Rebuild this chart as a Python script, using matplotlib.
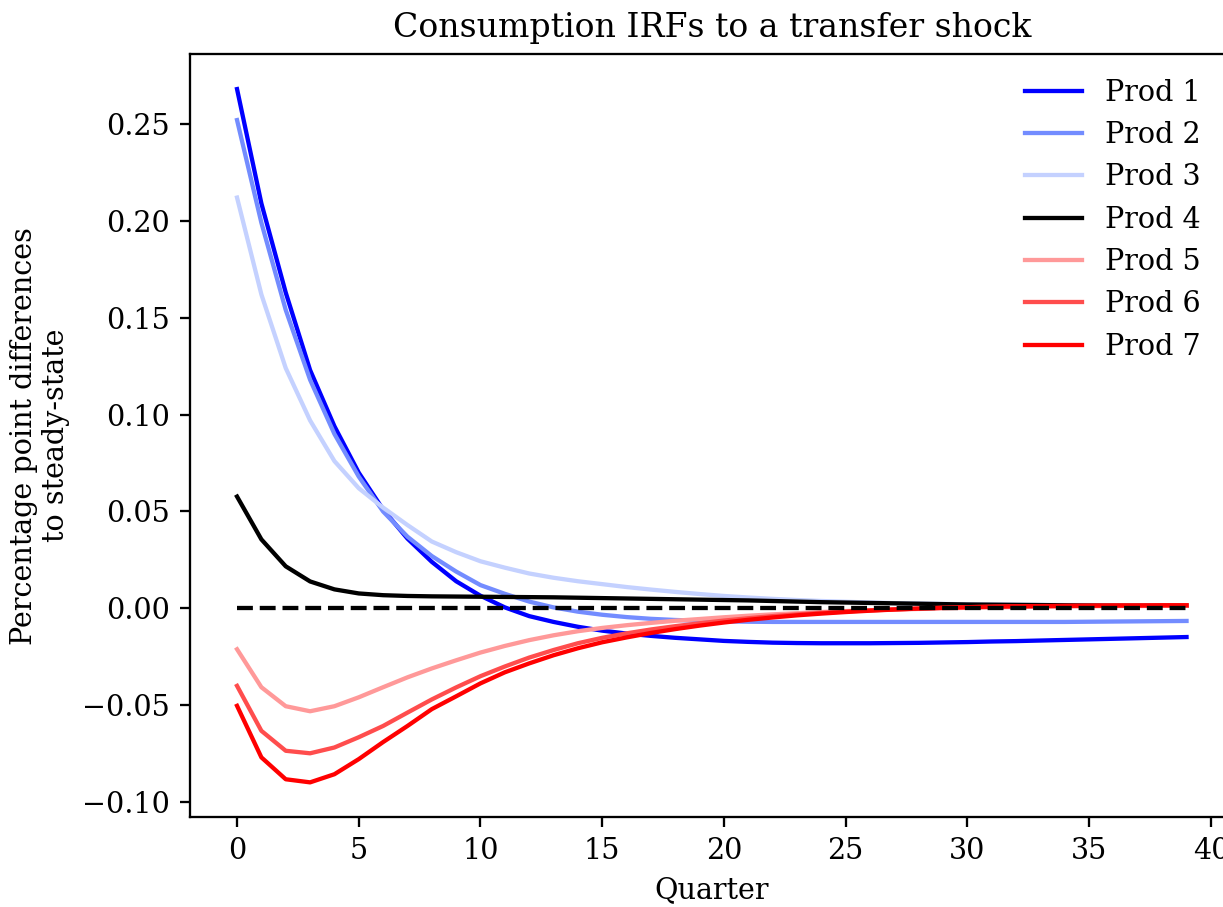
import numpy as np
import matplotlib
matplotlib.use('Agg')
import matplotlib.pyplot as plt

plt.rcParams['font.family'] = 'DejaVu Serif'

quarters = np.arange(40)

prod1 = [0.268, 0.209, 0.163, 0.123, 0.094, 0.070, 0.051, 0.036, 0.024, 0.014,
         0.0065, 0.0005, -0.004, -0.007, -0.0095, -0.0115, -0.013, -0.0142, -0.0152, -0.016,
         -0.0168, -0.0173, -0.0177, -0.0179, -0.018, -0.018, -0.018, -0.0179, -0.0178, -0.0176,
         -0.0174, -0.0171, -0.0169, -0.0166, -0.0163, -0.016, -0.0157, -0.0154, -0.0151, -0.0148]
prod2 = [0.252, 0.199, 0.154, 0.118, 0.090, 0.068, 0.050, 0.037, 0.027, 0.019,
         0.012, 0.0075, 0.0035, 0.0005, -0.0017, -0.0033, -0.0045, -0.0054, -0.006, -0.0064,
         -0.0067, -0.0069, -0.007, -0.007, -0.007, -0.007, -0.007, -0.007, -0.007, -0.007,
         -0.007, -0.007, -0.007, -0.007, -0.007, -0.0069, -0.0068, -0.0067, -0.0066, -0.0065]
prod3 = [0.212, 0.162, 0.124, 0.097, 0.076, 0.062, 0.052, 0.043, 0.0345, 0.029,
         0.0243, 0.021, 0.018, 0.0158, 0.014, 0.0125, 0.011, 0.0097, 0.0085, 0.0074,
         0.0064, 0.0056, 0.0049, 0.0043, 0.0038, 0.0034, 0.003, 0.0027, 0.0025, 0.0023,
         0.0021, 0.002, 0.0019, 0.0018, 0.0017, 0.0017, 0.0016, 0.0016, 0.0015, 0.0015]
prod4 = [0.0577, 0.0356, 0.0217, 0.0139, 0.0098, 0.0077, 0.0068, 0.0064, 0.0062, 0.0061,
         0.006, 0.0059, 0.0058, 0.0057, 0.0055, 0.0053, 0.0051, 0.0049, 0.0047, 0.0045,
         0.0043, 0.0041, 0.0038, 0.0035, 0.0032, 0.003, 0.0028, 0.0026, 0.0024, 0.0022,
         0.002, 0.0019, 0.0018, 0.0017, 0.0016, 0.0015, 0.0014, 0.0014, 0.0013, 0.0013]
prod5 = [-0.0211, -0.0407, -0.0505, -0.0531, -0.0505, -0.0459, -0.0407, -0.0356, -0.031, -0.0268,
         -0.0228, -0.0194, -0.0164, -0.0139, -0.0118, -0.0101, -0.0087, -0.0075, -0.0064, -0.0055,
         -0.0046, -0.0038, -0.0031, -0.0025, -0.0019, -0.0014, -0.001, -0.0006, -0.0003, 0.0,
         0.0003, 0.0005, 0.0007, 0.0009, 0.001, 0.0011, 0.0012, 0.0012, 0.0013, 0.0013]
prod6 = [-0.040, -0.0632, -0.0735, -0.0748, -0.0718, -0.0665, -0.0607, -0.0538, -0.047, -0.0408,
         -0.035, -0.030, -0.0254, -0.0215, -0.018, -0.0152, -0.0129, -0.0109, -0.0092, -0.0077,
         -0.0063, -0.0051, -0.004, -0.0031, -0.0023, -0.0016, -0.001, -0.0005, -0.0001, 0.0003,
         0.0006, 0.0008, 0.001, 0.0011, 0.0012, 0.0013, 0.0014, 0.0014, 0.0015, 0.0015]
prod7 = [-0.0503, -0.0769, -0.0882, -0.0898, -0.0856, -0.0778, -0.069, -0.0607, -0.052, -0.0454,
         -0.0387, -0.033, -0.0284, -0.0242, -0.0206, -0.0175, -0.015, -0.0127, -0.0107, -0.0089,
         -0.0073, -0.0059, -0.0047, -0.0036, -0.0027, -0.0019, -0.0012, -0.0006, -0.0001, 0.0003,
         0.0006, 0.0009, 0.0011, 0.0012, 0.0013, 0.0014, 0.0015, 0.0015, 0.0016, 0.0016]

series = [prod1, prod2, prod3, prod4, prod5, prod6, prod7]
labels = ['Prod 1', 'Prod 2', 'Prod 3', 'Prod 4', 'Prod 5', 'Prod 6', 'Prod 7']
colors = [(0.0, 0.0, 1.0), (0.45, 0.55, 1.0), (0.77, 0.82, 1.0), (0.0, 0.0, 0.0),
          (1.0, 0.6, 0.6), (1.0, 0.3, 0.3), (1.0, 0.0, 0.0)]

dpi = 206
fig = plt.figure(figsize=(1223 / dpi, 907 / dpi), dpi=dpi)
ax = fig.add_axes([0.155, 0.0992, 0.854, 0.8408])

for vals, lab, c in zip(series, labels, colors):
    ax.plot(quarters, vals, color=c, lw=1.5, label=lab)
ax.plot(quarters, np.zeros(len(quarters)), 'k--', lw=1.5)

ax.set_xticks(range(0, 41, 5))

ax.set_title('Consumption IRFs to a transfer shock', fontsize=11.6)
ax.set_xlabel('Quarter')
ax.set_ylabel('Percentage point differences\nto steady-state')
ax.legend(frameon=False, loc='upper right', bbox_to_anchor=(1.003, 0.9416),
          bbox_transform=fig.transFigure)

fig.savefig('out.png', dpi=dpi)
